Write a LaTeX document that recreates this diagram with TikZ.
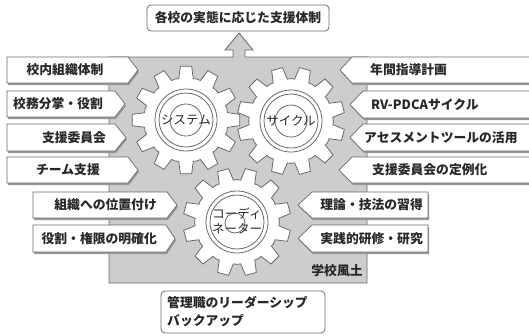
\documentclass[tikz,border=0pt]{standalone}
\usepackage{fontspec}
\newfontfamily\jp{Noto Sans CJK JP}
\definecolor{regiongray}{RGB}{205,205,205}
\definecolor{linegray}{RGB}{105,105,105}
\definecolor{shadowgray}{RGB}{150,150,150}
\definecolor{textgray}{RGB}{40,40,40}
\tikzset{
  region/.style={fill=regiongray, draw=linegray, line width=0.8pt},
  gearline/.style={fill=white, draw=linegray, line width=0.8pt},
  ringline/.style={draw=linegray, line width=0.8pt},
  boxline/.style={fill=white, draw=linegray, line width=0.7pt},
  roundbox/.style={fill=white, draw=linegray, line width=0.8pt, rounded corners=4pt},
  lbl/.style={inner sep=0pt, text=textgray, font=\jp\bfseries\fontsize{12.8}{15}\selectfont},
  gearlbl/.style={inner sep=0pt, text=textgray, font=\jp\fontsize{12.5}{15}\selectfont},
}
% box pointing right: x1, y1, xr, xtip, y2
\newcommand\rightbox[5]{%
  \fill[shadowgray] (#1+1,#2+2) -- (#3+1,#2+2) -- (#4+1,{(#2+#5)/2+2}) -- (#3+1,#5+2) -- (#1+1,#5+2) -- cycle;
  \draw[boxline] (#1,#2) -- (#3,#2) -- (#4,{(#2+#5)/2}) -- (#3,#5) -- (#1,#5) -- cycle;}
% box pointing left: xtip, x2, y1, xend, y2
\newcommand\leftbox[5]{%
  \fill[shadowgray] (#1+1,{(#3+#5)/2+2}) -- (#2+1,#3+2) -- (#4+1,#3+2) -- (#4+1,#5+2) -- (#2+1,#5+2) -- cycle;
  \draw[boxline] (#1,{(#3+#5)/2}) -- (#2,#3) -- (#4,#3) -- (#4,#5) -- (#2,#5) -- cycle;}
% gear: cx, cy, angular offset
\newcommand\mygear[3]{%
  \begin{scope}[shift={(#1,#2)}]
    \draw[gearline] ({#3-10}:42) \foreach \i in {0,...,11}{
      -- ({#3+30*\i-10}:42) -- ({#3+30*\i-6}:54) -- ({#3+30*\i+6}:54)
      -- ({#3+30*\i+10}:42) -- ({#3+30*\i+15}:42.4) } -- cycle;
  \end{scope}}
\begin{document}
\begin{tikzpicture}[x=1pt,y=-1pt, font=\jp\fontsize{12.8}{15}\selectfont]
\useasboundingbox (0,0) rectangle (529,335);

% school climate region with upward arrow
\draw[region] (109,57) -- (233,57) -- (233,50) -- (225,50) -- (239,33)
  -- (253,50) -- (245,50) -- (245,57) -- (367,57) -- (367,283) -- (109,283) -- cycle;

% top box
\draw[roundbox] (147,5) rectangle (329,31);
\node[lbl] (goal) at (238,18) {各校の実態に応じた支援体制};

% gears
\mygear{186}{120}{0}
\mygear{291}{121}{15}
\mygear{237}{222}{15}
\draw[ringline] (186,120) circle[radius=31pt] (186,120) circle[radius=27pt] (186,120) circle[radius=16pt];
\draw[ringline] (291,121) circle[radius=31pt] (291,121) circle[radius=27pt] (291,121) circle[radius=16pt];
\draw[ringline] (237,222) circle[radius=31pt] (237,222) circle[radius=27pt] (235,223) circle[radius=10pt];
\node[gearlbl] (sys) at (186,120) {システム};
\node[gearlbl] (cyc) at (291,121) {サイクル};
\node[gearlbl, align=center] (coord) at (237,221) {コーディ\\ネーター};

% left boxes
\rightbox{7}{57}{128}{138}{83}
\rightbox{7}{91}{115}{125}{117}
\rightbox{7}{124}{115}{126}{151}
\rightbox{7}{157}{128}{138}{183}
\rightbox{33}{192}{167}{177}{218}
\rightbox{33}{225}{166}{175}{252}
\node[lbl] (l1) at (65,70) {校内組織体制};
\node[lbl] (l2) at (58,104) {校務分掌・役割};
\node[lbl] (l3) at (74,137.5) {支援委員会};
\node[lbl] (l4) at (68,170) {チーム支援};
\node[lbl, anchor=east] (l5) at (157,205) {組織への位置付け};
\node[lbl, anchor=east] (l6) at (157,238.5) {役割・権限の明確化};

% right boxes
\leftbox{340}{352}{57}{532}{83}
\leftbox{350}{363}{91}{532}{118}
\leftbox{350}{363}{124}{532}{151}
\leftbox{339}{352}{157}{532}{183}
\leftbox{298}{312}{192}{428}{218}
\leftbox{298}{312}{225}{428}{252}
\node[lbl, anchor=west] (r1) at (370,70) {年間指導計画};
\node[lbl, anchor=west] (r2) at (371,104.5) {RV-PDCAサイクル};
\node[lbl, anchor=west] (r3) at (364,137.5) {アセスメントツールの活用};
\node[lbl, anchor=west] (r4) at (372,170) {支援委員会の定例化};
\node[lbl, anchor=east] (r5) at (423,205) {理論・技法の習得};
\node[lbl, anchor=east] (r6) at (423,238.5) {実践的研修・研究};

\node[lbl] (climate) at (337,271) {学校風土};

% bottom box
\draw[roundbox] (161,291) rectangle (325,333);
\node[lbl, anchor=west] (lead1) at (167,303) {管理職のリーダーシップ};
\node[lbl, anchor=west] (lead2) at (167,321) {バックアップ};
\end{tikzpicture}
\end{document}
